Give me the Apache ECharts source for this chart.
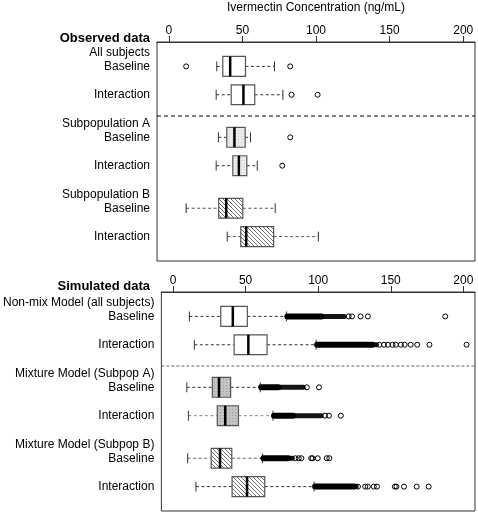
<!DOCTYPE html>
<html><head><meta charset="utf-8">
<script src="https://cdn.jsdelivr.net/npm/echarts@6/dist/echarts.min.js"></script>
<style>html,body{margin:0;padding:0;background:#fff}#c{width:478px;height:513px}</style>
</head><body><div id="c"></div>
<script>
// ---------- data ----------
const rowPos = [1, 2, 3.5, 4.5, 6, 7];
const rowCond = ['Baseline', 'Interaction', 'Baseline', 'Interaction', 'Baseline', 'Interaction'];
const obsGroups = ['All subjects', 'Subpopulation A', 'Subpopulation B'];
const simGroups = ['Non-mix Model (all subjects)', 'Mixture Model (Subpop A)', 'Mixture Model (Subpop B)'];
const xTicks = [0, 50, 100, 150, 200];
const separatorPos = 2.75;
// [whiskerLow, Q1, median, Q3, whiskerHigh]
const obsStats = [
  [32.6, 36.7, 41.7, 52.1, 71.8],
  [32.2, 42.4, 50.7, 58.4, 77.5],
  [33.7, 39.4, 44.6, 51.9, 55.5],
  [32.2, 43.5, 47.6, 53.0, 60.1],
  [11.8, 33.9, 39.0, 50.3, 72.3],
  [39.7, 48.9, 52.6, 71.2, 101.6]
];
const obsOutliers = [[11.8, 82.5], [83.4, 101.1], [82.5], [77.1], [], []];
const simStats = [
  [11.3, 32.9, 41.2, 51.2, 78.1],
  [14.7, 42.1, 51.9, 64.8, 98.6],
  [9.5, 27.1, 31.7, 39.7, 60.1],
  [10.6, 30.5, 36.0, 45.1, 68.9],
  [10.1, 26.3, 32.4, 40.5, 61.6],
  [15.8, 40.7, 51.0, 63.2, 97.2]
];
// dense outlier runs: [start, end of solid run, end of overlapping run]
const simDense = [
  [78.1, 103.6, 118.3],
  [98.6, 138.7, 140.5],
  [60.1, 74.1, 90.0],
  [68.9, 84.3, 102.4],
  [61.6, 80.9, 82.5],
  [97.2, 126.3, 126.5]
];
const simOutliers = [
  [121.0, 123.3, 129.2, 134.2, 187.5],
  [142.1, 145.3, 148.0, 151.2, 153.5, 156.9, 159.6, 163.7, 168.2, 176.6, 202.2],
  [92.2, 100.6],
  [104.7, 107.4, 115.6],
  [84.3, 86.6, 88.4, 95.2, 96.1, 99.7, 105.9, 107.7],
  [127.4, 132.4, 134.2, 138.3, 140.5, 152.8, 153.9, 159.1, 167.8, 176.1]
];

// ---------- styles ----------
const FONT = 'Liberation Sans';
function dots(bg, dot) {
  const c = document.createElement('canvas'); c.width = 3; c.height = 3;
  const g = c.getContext('2d'); g.fillStyle = bg; g.fillRect(0, 0, 3, 3);
  g.fillStyle = dot; g.fillRect(1, 1, 1, 1);
  return { image: c, repeat: 'repeat' };
}
function hatch() {
  const c = document.createElement('canvas'); c.width = 4; c.height = 4;
  const g = c.getContext('2d'); g.fillStyle = '#fff'; g.fillRect(0, 0, 4, 4);
  g.fillStyle = '#707070';
  for (let i = 0; i < 4; i++) g.fillRect(i, i, 1, 1);
  return { image: c, repeat: 'repeat' };
}
const obsFills = ['#fff', '#fff', dots('#ececec', '#c8c8c8'), dots('#ececec', '#c8c8c8'), hatch(), hatch()];
const simFills = ['#fff', '#fff', dots('#c4c4c4', '#9a9a9a'), dots('#c4c4c4', '#9a9a9a'), hatch(), hatch()];

function boxSeries(stats, fills, dense, gi, whiskerColors) {
  const data = stats.map((s, i) => [rowPos[i]].concat(s));
  return {
    type: 'custom', xAxisIndex: gi, yAxisIndex: gi, clip: false, z: 3,
    data: data,
    encode: { x: [1, 5], y: 0 },
    renderItem: function (params, api) {
      const i = params.dataIndex;
      const pos = api.value(0);
      const wl = api.value(1), q1 = api.value(2), md = api.value(3), q3 = api.value(4), wh = api.value(5);
      const y = api.coord([0, pos])[1];
      const h = api.size([0, 0.35])[1];
      const X = v => api.coord([v, pos])[0];
      const wc = whiskerColors[i];
      const ch = [];
      const dash = { stroke: wc, lineWidth: 1, lineDash: [3, 2.5] };
      ch.push({ type: 'line', shape: { x1: X(wl), y1: y, x2: X(q1), y2: y }, style: dash });
      ch.push({ type: 'line', shape: { x1: X(q3), y1: y, x2: X(wh), y2: y }, style: dash });
      ch.push({ type: 'line', shape: { x1: X(wl), y1: y - h / 2, x2: X(wl), y2: y + h / 2 }, style: { stroke: '#333', lineWidth: 1 } });
      ch.push({ type: 'line', shape: { x1: X(wh), y1: y - h / 2, x2: X(wh), y2: y + h / 2 }, style: { stroke: '#333', lineWidth: 1 } });
      if (dense) {
        const d = dense[i];
        ch.push({ type: 'rect', shape: { x: X(d[1]) - 2, y: y - 2.5, width: X(d[2]) - X(d[1]) + 4, height: 5, r: 2.5 }, style: { fill: '#151515' } });
        ch.push({ type: 'rect', shape: { x: X(d[0]) - 2, y: y - 3, width: X(d[1]) - X(d[0]) + 3, height: 6, r: 3 }, style: { fill: '#000' } });
      }
      ch.push({ type: 'rect', shape: { x: X(q1), y: y - h, width: X(q3) - X(q1), height: 2 * h }, style: { fill: fills[i], stroke: '#555', lineWidth: 1.2 } });
      ch.push({ type: 'line', shape: { x1: X(md), y1: y - h, x2: X(md), y2: y + h }, style: { stroke: '#000', lineWidth: 2.5 } });
      return { type: 'group', children: ch };
    }
  };
}
function outlierSeries(outl, gi) {
  const pts = [];
  outl.forEach((arr, i) => arr.forEach(v => pts.push([v, rowPos[i]])));
  return {
    type: 'scatter', xAxisIndex: gi, yAxisIndex: gi, data: pts, symbol: 'circle', symbolSize: 5, z: 4,
    itemStyle: { color: 'rgba(0,0,0,0)', borderColor: '#000', borderWidth: 1, opacity: 1 },
    emphasis: { disabled: true }, silent: true
  };
}
function sepSeries(gi, color, dash) {
  return {
    type: 'custom', xAxisIndex: gi, yAxisIndex: gi, clip: false, data: [[0, separatorPos]],
    renderItem: function (p, api) {
      const a = api.coord([-8, separatorPos]), b = api.coord([208, separatorPos]);
      return { type: 'line', shape: { x1: a[0], y1: a[1], x2: b[0], y2: b[1] }, style: { stroke: color, lineWidth: 1, lineDash: dash } };
    }
  };
}
function xAxis(gi) {
  return {
    type: 'value', gridIndex: gi, position: 'top', min: -8, max: 208,
    axisLine: { show: true, lineStyle: { color: '#333' } },
    axisTick: { show: true, length: 6, customValues: xTicks, lineStyle: { color: '#333' } },
    axisLabel: { customValues: xTicks, margin: 5, fontFamily: FONT, fontSize: 12, color: '#000' },
    splitLine: { show: false }
  };
}
function yAxis(gi, groups) {
  return {
    type: 'value', gridIndex: gi, inverse: true, min: 0.14, max: 7.86,
    axisLine: { show: false }, axisTick: { show: false }, splitLine: { show: false },
    axisLabel: {
      customValues: rowPos, margin: 7, fontFamily: FONT, fontSize: 12, color: '#000', lineHeight: 13.5, align: 'right',
      formatter: function (v) {
        const i = rowPos.findIndex(p => Math.abs(p - v) < 1e-6);
        if (i < 0) return '';
        if (i % 2 === 0) return groups[i / 2] + '\n' + rowCond[i] + '\n ';
        return rowCond[i];
      }
    }
  };
}

const chart = echarts.init(document.getElementById('c'), null, { renderer: 'canvas' });
chart.setOption({
  animation: false,
  backgroundColor: '#fff',
  grid: [
    { left: 157, top: 42, width: 318, height: 219, show: true, borderColor: '#333', borderWidth: 1, backgroundColor: 'transparent' },
    { left: 157, top: 292, width: 318, height: 219, show: true, borderColor: '#333', borderWidth: 1, backgroundColor: 'transparent' }
  ],
  xAxis: [xAxis(0), xAxis(1)],
  yAxis: [yAxis(0, obsGroups), yAxis(1, simGroups)],
  graphic: [
    { type: 'text', style: { x: 316, y: 8, text: 'Ivermectin Concentration (ng/mL)', align: 'center', textAlign: 'center', verticalAlign: 'middle', textVerticalAlign: 'middle', font: '12px "Liberation Sans"', fill: '#000' } },
    { type: 'text', style: { x: 150, y: 38, text: 'Observed data', align: 'right', textAlign: 'right', verticalAlign: 'middle', textVerticalAlign: 'middle', font: 'bold 13px "Liberation Sans"', fill: '#000' } },
    { type: 'text', style: { x: 150, y: 286, text: 'Simulated data', align: 'right', textAlign: 'right', verticalAlign: 'middle', textVerticalAlign: 'middle', font: 'bold 13px "Liberation Sans"', fill: '#000' } }
  ],
  series: [
    sepSeries(0, '#000', [4, 3]),
    sepSeries(1, '#666', [3, 2]),
    boxSeries(obsStats, obsFills, null, 0, ['#333', '#333', '#333', '#333', '#555', '#555']),
    boxSeries(simStats, simFills, simDense, 1, ['#333', '#333', '#333', '#888', '#666', '#333']),
    outlierSeries(obsOutliers, 0),
    outlierSeries(simOutliers, 1)
  ]
});
</script></body></html>
